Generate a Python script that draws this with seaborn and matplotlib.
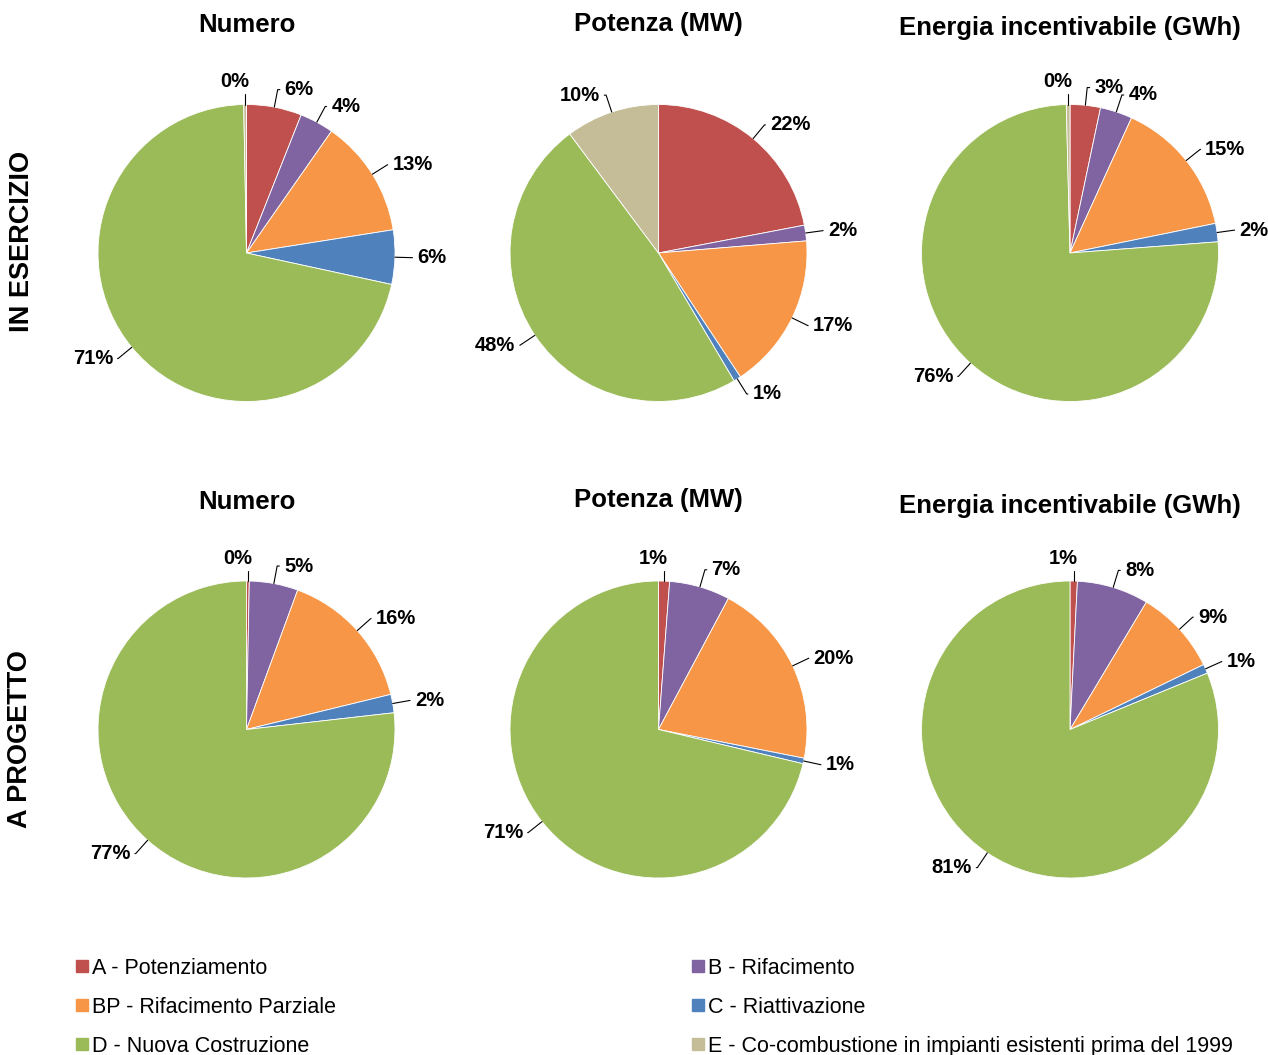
import numpy as np
import matplotlib
matplotlib.use("Agg")
import matplotlib.pyplot as plt
import seaborn as sns
from matplotlib.lines import Line2D

# ---------------- data ----------------
categories = ["A - Potenziamento", "B - Rifacimento", "BP - Rifacimento Parziale",
              "C - Riattivazione", "D - Nuova Costruzione",
              "E - Co-combustione in impianti esistenti prima del 1999"]
colors_hex = ["#C0504D", "#8064A2", "#F79646", "#4F81BD", "#9BBB59", "#C4BD97"]

row_labels = ["IN ESERCIZIO", "A PROGETTO"]
col_titles = ["Numero", "Potenza (MW)", "Energia incentivabile (GWh)"]

# percentages (A, B, BP, C, D, E)
esercizio_numero = [6.0, 3.7, 12.8, 5.9, 71.3, 0.3]
esercizio_potenza = [22.0, 1.7, 17.0, 0.8, 48.3, 10.2]
esercizio_energia = [3.3, 3.5, 15.0, 2.0, 75.8, 0.4]
progetto_numero = [0.3, 5.3, 15.6, 2.0, 76.8, 0.0]
progetto_potenza = [1.2, 6.6, 20.3, 0.6, 71.3, 0.0]
progetto_energia = [0.8, 7.8, 9.2, 1.0, 81.2, 0.0]

# ---------------- style ----------------
sns.set_theme(style="white")
plt.rcParams["font.family"] = ["Liberation Sans", "DejaVu Sans"]
plt.rcParams["text.color"] = "black"
palette = sns.color_palette(colors_hex)

W, H = 1268, 1055
fig = plt.figure(figsize=(W / 100, H / 100), dpi=100)

R = 148.5          # pie radius, px
HALF = 200         # half size of each pie axes, px
centers_x = [246.5, 658.5, 1070]
centers_y = [253, 729.5]

data = [[esercizio_numero, esercizio_potenza, esercizio_energia],
        [progetto_numero, progetto_potenza, progetto_energia]]
title_y = [[25, 24, 28], [502, 500, 506]]

LABEL_FS = 14.5


def draw_pie(ax, vals):
    vals = np.array(vals, dtype=float)
    keep = vals > 0
    v = vals[keep]
    cols = [palette[i] for i in range(len(vals)) if keep[i]]
    wedges, _ = ax.pie(v, colors=cols, startangle=90, counterclock=False,
                       radius=1.0, wedgeprops=dict(edgecolor="white", linewidth=0.6))
    total = v.sum()
    for w, val in zip(wedges, v):
        ang = (w.theta2 + w.theta1) / 2.0
        x = np.cos(np.deg2rad(ang))
        y = np.sin(np.deg2rad(ang))
        txt = f"{int(round(val / total * 100))}%"
        if abs(x) < 0.06 and y > 0:
            ax.annotate(txt, xy=(x, 1.0), xytext=(x - 0.07, 1.09),
                        ha="center", va="bottom", fontsize=LABEL_FS, fontweight="bold",
                        color="black",
                        arrowprops=dict(arrowstyle="-", color="black", lw=0.8,
                                        shrinkA=0, shrinkB=0,
                                        connectionstyle="angle,angleA=0,angleB=90"))
            continue
        sgn = 1 if x > 0 else -1
        ha = "left" if x > 0 else "right"
        ax.annotate(txt, xy=(x, y), xytext=(1.1 * x + 0.05 * sgn, 1.12 * y),
                    ha=ha, va="center", fontsize=LABEL_FS, fontweight="bold",
                    color="black",
                    arrowprops=dict(arrowstyle="-", color="black", lw=0.8,
                                    shrinkA=1, shrinkB=0,
                                    connectionstyle=f"angle,angleA=0,angleB={ang}"))


for r in range(2):
    for c in range(3):
        cx, cy = centers_x[c], centers_y[r]
        ax = fig.add_axes([(cx - HALF) / W, (H - cy - HALF) / H, 2 * HALF / W, 2 * HALF / H])
        draw_pie(ax, data[r][c])
        lim = HALF / R
        ax.set_xlim(-lim, lim)
        ax.set_ylim(-lim, lim)
        ax.set_aspect("equal")
        ax.axis("off")
        fig.text(cx / W, 1 - title_y[r][c] / H, col_titles[c], ha="center", va="center",
                 fontsize=18.5, fontweight="bold")

fig.text(22 / W, 1 - 241 / H, row_labels[0], rotation=90, ha="center", va="center",
         fontsize=19.5, fontweight="bold")
fig.text(20 / W, 1 - 739 / H, row_labels[1], rotation=90, ha="center", va="center",
         fontsize=19.5, fontweight="bold")

# ---------------- legend ----------------
def handle(i):
    return Line2D([], [], marker="s", linestyle="none", markersize=8,
                  markerfacecolor=palette[i], markeredgecolor=palette[i])

left_idx = [0, 2, 4]
right_idx = [1, 3, 5]
for idx, xpos in [(left_idx, 76), (right_idx, 692)]:
    fig.legend([handle(i) for i in idx], [categories[i] for i in idx],
               loc="upper left", bbox_to_anchor=(xpos / W, 1 - 958 / H),
               frameon=False, fontsize=15.5, handlelength=0.6, handletextpad=0.15,
               labelspacing=0.83, borderpad=0, borderaxespad=0)

fig.savefig("out.png", dpi=100)
